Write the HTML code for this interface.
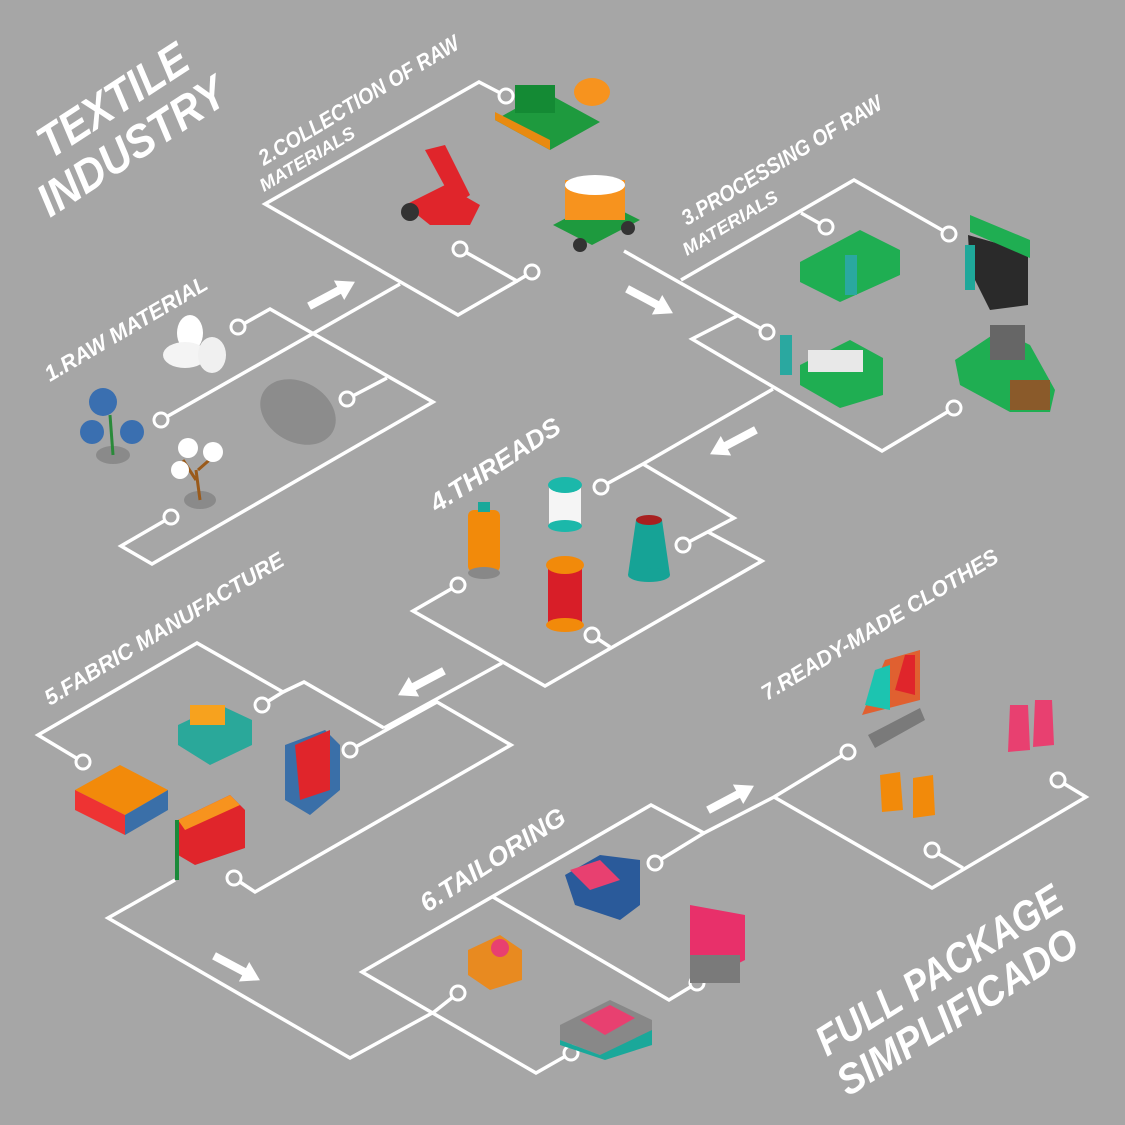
<!DOCTYPE html>
<html><head><meta charset="utf-8"><style>
html,body{margin:0;padding:0;background:#a6a6a6;}
svg{display:block}
text{font-family:"Liberation Sans",sans-serif;font-weight:bold;font-style:italic;fill:#fff}
</style></head><body>
<svg width="1125" height="1125" viewBox="0 0 1125 1125" xmlns="http://www.w3.org/2000/svg">
<rect width="1125" height="1125" fill="#a6a6a6"/>
<g fill="none" stroke="#fff" stroke-width="3.5" stroke-linejoin="miter">
<polyline points="238,327 270,309 433,402 152,564 121,546 171,517"/>
<polyline points="161,420 400,284"/>
<polyline points="347,399 387,378"/>
<polyline points="506,96 479,82 265,204 458,315 517,281"/>
<polyline points="460,249 517,281 532,272"/>
<polyline points="624,251 767,332"/>
<polyline points="681,280 854,180 949,234"/>
<polyline points="826,227 801,213"/>
<polyline points="737,316 692,339 882,451 954,408"/>
<polyline points="773,389 643,464 601,487"/>
<polyline points="643,464 734,518 683,545"/>
<polyline points="708,532 762,561 545,686 413,611 458,585"/>
<polyline points="592,635 610,647"/>
<polyline points="502,663 384,728"/>
<polyline points="83,762 38,735 197,643 283,692 262,705"/>
<polyline points="283,692 304,682 384,728"/>
<polyline points="350,750 437,702 511,745 255,892 234,878"/>
<polyline points="175,880 108,918 350,1058 434,1012"/>
<polyline points="458,993 434,1012"/>
<polyline points="571,1053 536,1073 362,972 651,805 704,833 774,797 848,752"/>
<polyline points="493,897 669,1000 697,983"/>
<polyline points="655,863 704,833"/>
<polyline points="774,797 932,888 1086,797 1058,780"/>
<polyline points="932,850 963,868"/>
</g>
<g fill="#a6a6a6" stroke="#fff" stroke-width="3">
<circle cx="238" cy="327" r="7"/><circle cx="171" cy="517" r="7"/><circle cx="161" cy="420" r="7"/><circle cx="347" cy="399" r="7"/>
<circle cx="506" cy="96" r="7"/><circle cx="460" cy="249" r="7"/><circle cx="532" cy="272" r="7"/>
<circle cx="767" cy="332" r="7"/><circle cx="826" cy="227" r="7"/><circle cx="949" cy="234" r="7"/><circle cx="954" cy="408" r="7"/>
<circle cx="601" cy="487" r="7"/><circle cx="683" cy="545" r="7"/><circle cx="458" cy="585" r="7"/><circle cx="592" cy="635" r="7"/>
<circle cx="83" cy="762" r="7"/><circle cx="262" cy="705" r="7"/><circle cx="350" cy="750" r="7"/><circle cx="234" cy="878" r="7"/>
<circle cx="458" cy="993" r="7"/><circle cx="571" cy="1053" r="7"/><circle cx="697" cy="983" r="7"/><circle cx="655" cy="863" r="7"/>
<circle cx="848" cy="752" r="7"/><circle cx="1058" cy="780" r="7"/><circle cx="932" cy="850" r="7"/>
</g>
<g fill="#fff">
<g transform="translate(332,294) rotate(-28)"><rect x="-26" y="-4" width="36" height="8"/><polygon points="8,-11 26,0 8,11"/></g>
<g transform="translate(650,301) rotate(28)"><rect x="-26" y="-4" width="36" height="8"/><polygon points="8,-11 26,0 8,11"/></g>
<g transform="translate(733,442) rotate(152)"><rect x="-26" y="-4" width="36" height="8"/><polygon points="8,-11 26,0 8,11"/></g>
<g transform="translate(421,683) rotate(152)"><rect x="-26" y="-4" width="36" height="8"/><polygon points="8,-11 26,0 8,11"/></g>
<g transform="translate(237,968) rotate(28)"><rect x="-26" y="-4" width="36" height="8"/><polygon points="8,-11 26,0 8,11"/></g>
<g transform="translate(731,798) rotate(-28)"><rect x="-26" y="-4" width="36" height="8"/><polygon points="8,-11 26,0 8,11"/></g>
</g>
<text x="50" y="160" font-size="46" textLength="170" lengthAdjust="spacingAndGlyphs" transform="rotate(-33 50 160)">TEXTILE</text>
<text x="50" y="218" font-size="46" textLength="215" lengthAdjust="spacingAndGlyphs" transform="rotate(-33 50 218)">INDUSTRY</text>
<text x="50" y="382" font-size="22" textLength="185" lengthAdjust="spacingAndGlyphs" transform="rotate(-30.5 50 382)">1.RAW MATERIAL</text>
<text x="264" y="166" font-size="22" textLength="230" lengthAdjust="spacingAndGlyphs" transform="rotate(-31 264 166)">2.COLLECTION OF RAW</text>
<text x="264" y="192" font-size="18" textLength="108" lengthAdjust="spacingAndGlyphs" transform="rotate(-31 264 192)">MATERIALS</text>
<text x="687" y="226" font-size="22" textLength="230" lengthAdjust="spacingAndGlyphs" transform="rotate(-31 687 226)">3.PROCESSING OF RAW</text>
<text x="687" y="256" font-size="18" textLength="108" lengthAdjust="spacingAndGlyphs" transform="rotate(-31 687 256)">MATERIALS</text>
<text x="437" y="513" font-size="26" textLength="150" lengthAdjust="spacingAndGlyphs" transform="rotate(-33 437 513)">4.THREADS</text>
<text x="50" y="706" font-size="22" textLength="275" lengthAdjust="spacingAndGlyphs" transform="rotate(-31 50 706)">5.FABRIC MANUFACTURE</text>
<text x="427" y="913" font-size="26" textLength="168" lengthAdjust="spacingAndGlyphs" transform="rotate(-33 427 913)">6.TAILORING</text>
<text x="767" y="701" font-size="22" textLength="272" lengthAdjust="spacingAndGlyphs" transform="rotate(-31 767 701)">7.READY-MADE CLOTHES</text>
<text x="827" y="1057" font-size="42" textLength="282" lengthAdjust="spacingAndGlyphs" transform="rotate(-32 827 1057)">FULL PACKAGE</text>
<text x="848" y="1097" font-size="42" textLength="276" lengthAdjust="spacingAndGlyphs" transform="rotate(-32 848 1097)">SIMPLIFICADO</text>
<ellipse cx="190" cy="333" rx="13" ry="18" fill="#fff"/><ellipse cx="185" cy="355" rx="22" ry="13" fill="#f4f4f4"/><ellipse cx="212" cy="355" rx="14" ry="18" fill="#f0f0f0"/>
<ellipse cx="113" cy="455" rx="17" ry="9" fill="#8a8a8a"/><line x1="113" y1="455" x2="110" y2="415" stroke="#2a8a3a" stroke-width="3"/>
<circle cx="103" cy="402" r="14" fill="#3a6fb0"/><circle cx="92" cy="432" r="12" fill="#3a6fb0"/><circle cx="132" cy="432" r="12" fill="#3a6fb0"/>
<ellipse cx="200" cy="500" rx="16" ry="9" fill="#8a8a8a"/><path d="M200 500 L196 470 M196 480 L183 460 M198 470 L215 455" stroke="#9a5a1a" stroke-width="3" fill="none"/>
<circle cx="188" cy="448" r="10" fill="#fff"/><circle cx="213" cy="452" r="10" fill="#fff"/><circle cx="180" cy="470" r="9" fill="#fff"/>
<ellipse cx="298" cy="412" rx="40" ry="30" fill="#8c8c8c" transform="rotate(30 298 412)"/>
<polygon points="495,120 545,92 600,122 550,150" fill="#1e9a3e"/><rect x="515" y="85" width="40" height="28" fill="#148a34"/>
<polygon points="495,120 550,150 550,140 495,112" fill="#e88a10"/>
<ellipse cx="592" cy="92" rx="18" ry="14" fill="#f7931e"/>
<polygon points="405,205 445,185 480,205 470,225 430,225" fill="#e0252b"/><polygon points="425,150 445,145 470,195 455,205" fill="#e0252b"/>
<circle cx="410" cy="212" r="9" fill="#333"/>
<polygon points="553,225 600,200 640,220 592,245" fill="#1e9a3e"/>
<rect x="565" y="180" width="60" height="40" fill="#f7931e"/><ellipse cx="595" cy="185" rx="30" ry="10" fill="#fff"/>
<circle cx="580" cy="245" r="7" fill="#333"/><circle cx="628" cy="228" r="7" fill="#333"/>
<polygon points="800,262 860,230 900,250 900,275 840,302 800,282" fill="#1fae52"/><rect x="845" y="255" width="12" height="40" fill="#2aa8a0"/>
<polygon points="968,235 1028,252 1028,305 990,310 970,270" fill="#2a2a2a"/><polygon points="970,215 1030,240 1030,258 970,232" fill="#1fae52"/><rect x="965" y="245" width="10" height="45" fill="#1fa89a"/>
<polygon points="800,365 850,340 883,358 883,395 840,408 800,385" fill="#1fae52"/><rect x="808" y="350" width="55" height="22" fill="#e8e8e8"/><rect x="780" y="335" width="12" height="40" fill="#2aa8a0"/>
<polygon points="955,360 1000,330 1030,345 1055,390 1050,412 1010,412 960,385" fill="#1fae52"/><rect x="990" y="325" width="35" height="35" fill="#666"/><rect x="1010" y="380" width="40" height="30" fill="#8a5a2a"/>
<rect x="468" y="510" width="32" height="62" rx="6" fill="#f28a0a"/><ellipse cx="484" cy="573" rx="16" ry="6" fill="#888"/><rect x="478" y="502" width="12" height="10" fill="#1aa89a"/>
<rect x="549" y="485" width="32" height="40" fill="#f5f5f5"/><ellipse cx="565" cy="485" rx="17" ry="8" fill="#1bb8aa"/><ellipse cx="565" cy="526" rx="17" ry="6" fill="#1bb8aa"/>
<polygon points="636,520 662,520 670,575 628,575" fill="#16a396"/><ellipse cx="649" cy="575" rx="21" ry="7" fill="#16a396"/><ellipse cx="649" cy="520" rx="13" ry="5" fill="#a82020"/>
<rect x="548" y="565" width="34" height="60" fill="#d81e28"/><ellipse cx="565" cy="565" rx="19" ry="9" fill="#f28a0a"/><ellipse cx="565" cy="625" rx="19" ry="7" fill="#f28a0a"/>
<polygon points="75,790 120,765 168,790 125,815" fill="#f28a0a"/><polygon points="75,790 125,815 125,835 75,810" fill="#e33"/><polygon points="125,815 168,790 168,810 125,835" fill="#3a6fa8"/>
<polygon points="178,725 220,705 252,720 252,745 210,765 178,745" fill="#2aa89a"/><rect x="190" y="705" width="35" height="20" fill="#f7a21e"/>
<polygon points="285,745 325,730 340,745 340,790 310,815 285,800" fill="#3a6fa8"/><polygon points="295,745 330,730 330,790 300,800" fill="#e0252b"/>
<polygon points="178,820 230,795 245,810 245,848 195,865 178,855" fill="#e0252b"/><polygon points="178,820 230,795 240,805 185,830" fill="#f7931e"/><rect x="175" y="820" width="4" height="60" fill="#1a8a3a"/>
<polygon points="565,875 600,855 640,860 640,905 620,920 575,905" fill="#2a5a9a"/><polygon points="570,870 600,860 620,880 590,890" fill="#e84070"/>
<polygon points="468,950 500,935 522,950 522,980 490,990 468,975" fill="#e88a20"/><circle cx="500" cy="948" r="9" fill="#e84070"/>
<polygon points="690,905 745,915 745,960 705,980 690,960" fill="#e8306a"/><rect x="690" y="955" width="50" height="28" fill="#7a7a7a"/>
<polygon points="560,1025 610,1000 652,1020 652,1045 600,1055 560,1040" fill="#888"/><polygon points="580,1020 610,1005 635,1018 605,1035" fill="#e84070"/><polygon points="560,1040 600,1055 652,1030 652,1045 605,1060 560,1045" fill="#1aa89a"/>
<polygon points="862,715 885,660 920,650 920,700" fill="#e06030"/><polygon points="865,705 875,670 890,665 890,710" fill="#1cc4b0"/><polygon points="895,690 905,655 915,655 915,695" fill="#e0252b"/>
<polygon points="868,735 920,708 925,720 875,748" fill="#7a7a7a"/>
<polygon points="1010,705 1028,705 1030,750 1008,752" fill="#e84070"/><polygon points="1035,700 1052,700 1054,745 1033,747" fill="#e84070"/>
<polygon points="880,775 900,772 903,810 882,812" fill="#f28a0a"/><polygon points="913,778 933,775 935,815 913,818" fill="#f28a0a"/>
</svg>
</body></html>
